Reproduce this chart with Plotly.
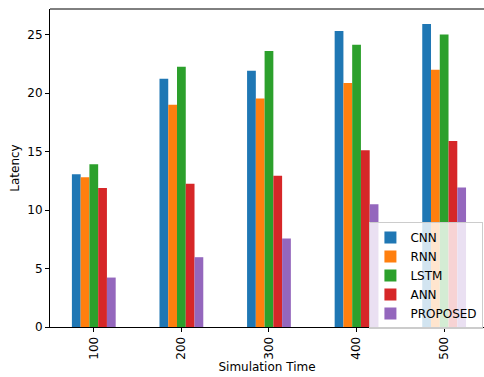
import plotly.graph_objects as go

categories = ["100", "200", "300", "400", "500"]
series_names = ["CNN", "RNN", "LSTM", "ANN", "PROPOSED"]
cnn = [13.06, 21.23, 21.91, 25.31, 25.91]
rnn = [12.80, 19.00, 19.54, 20.88, 22.00]
lstm = [13.92, 22.25, 23.60, 24.14, 25.02]
ann = [11.89, 12.25, 12.94, 15.12, 15.91]
proposed = [4.23, 5.97, 7.57, 10.51, 11.94]
colors = ["#1f77b4", "#ff7f0e", "#2ca02c", "#d62728", "#9467bd"]

fig = go.Figure()
for name, vals, c in zip(series_names, [cnn, rnn, lstm, ann, proposed], colors):
    fig.add_trace(go.Bar(x=list(range(len(categories))), y=vals, name=name,
                         marker=dict(color=c, line=dict(width=0))))

font = "DejaVu Sans"
fig.update_layout(
    width=484, height=377,
    margin=dict(l=50, r=0, t=9, b=50),
    plot_bgcolor="white", paper_bgcolor="white",
    barmode="group", bargap=0.5, bargroupgap=0,
    font=dict(family=font, size=12, color="black"),
    xaxis=dict(range=[-0.5, 4.455], tickmode="array",
               tickvals=list(range(len(categories))), ticktext=categories,
               tickangle=-90, ticks="outside", ticklen=4, tickcolor="black",
               showline=True, linecolor="black", linewidth=1, showgrid=False,
               zeroline=False, tickfont=dict(size=12),
               title=dict(text="Simulation Time", font=dict(size=12), standoff=3)),
    yaxis=dict(range=[0, 27.2], tickvals=[0, 5, 10, 15, 20, 25],
               ticks="outside", ticklen=4, tickcolor="black",
               showline=True, linecolor="black", linewidth=1, showgrid=False,
               zeroline=False, tickfont=dict(size=12),
               title=dict(text="Latency", font=dict(size=12), standoff=5)),
    legend=dict(x=0.736, y=0.33, xanchor="left", yanchor="top",
                bgcolor="rgba(255,255,255,0.8)", bordercolor="#cccccc",
                borderwidth=1, font=dict(size=12), tracegroupgap=0,
                itemwidth=30),
    showlegend=True,
)
fig.add_shape(type="line", xref="paper", yref="paper", x0=0, x1=1, y0=1, y1=1,
              line=dict(color="black", width=1))
fig.write_html("out.html")
